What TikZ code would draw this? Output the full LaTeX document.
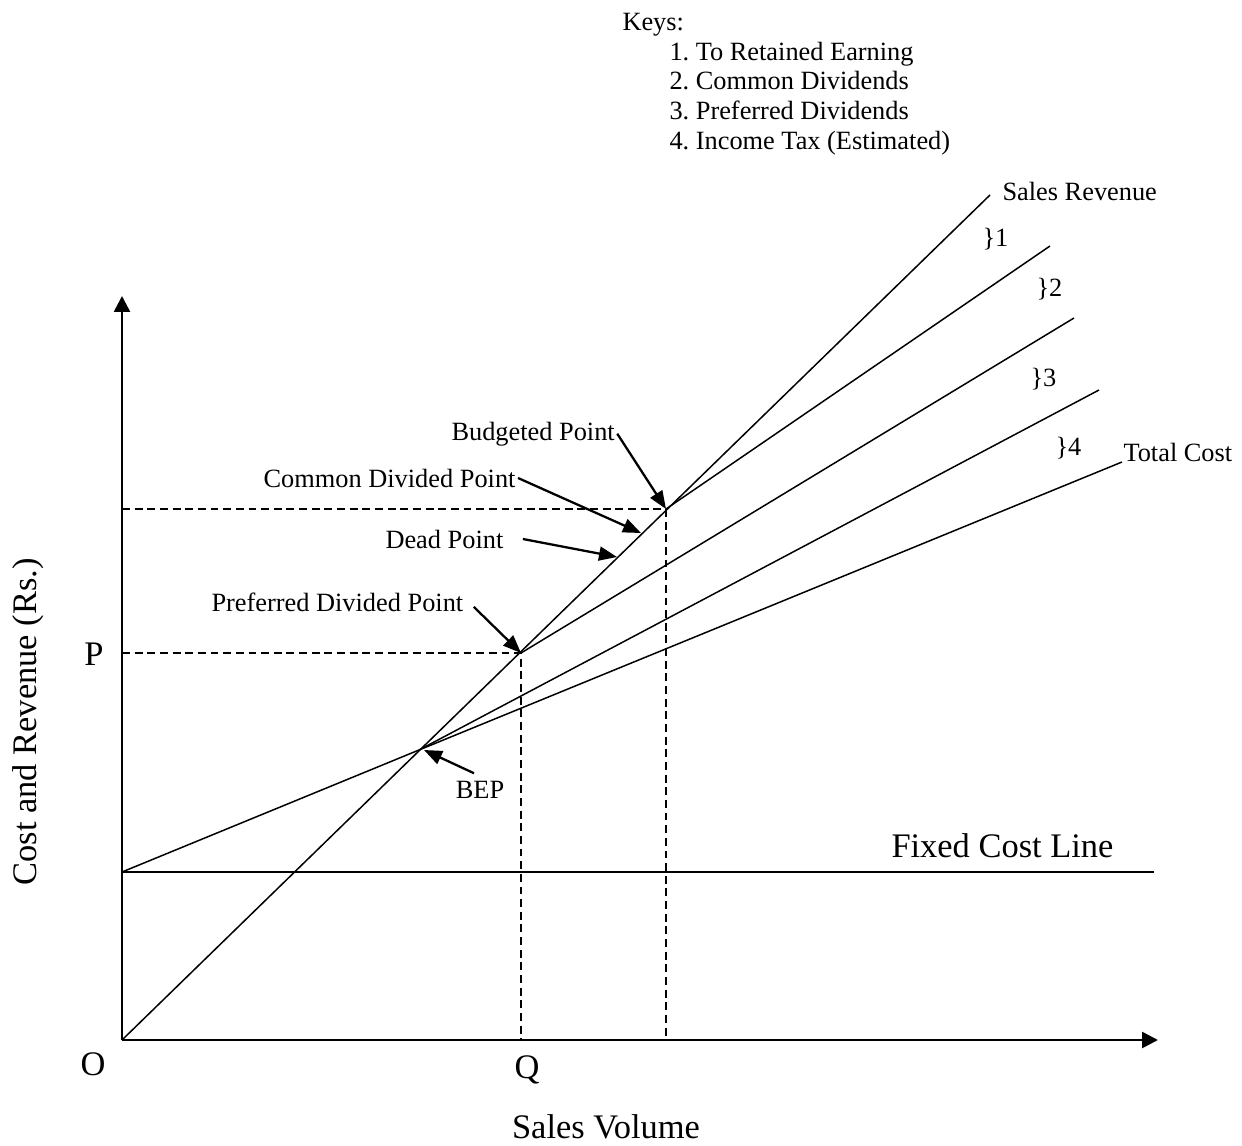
\documentclass[tikz,border=0pt]{standalone}
\usepackage{fontspec}
\setmainfont{Liberation Serif}
\frenchspacing
\usetikzlibrary{arrows.meta, calc}
\tikzset{
  every picture/.style={line width=0.85pt},
  axis/.style={line width=1.5pt, -{Triangle[length=0.32cm, width=0.32cm]}},
  pointer/.style={-{Triangle[length=0.36cm, width=0.28cm]}, line width=1.3pt},
  guide/.style={dash pattern=on 4.5pt off 2.7pt, line width=0.75pt},
  lbl/.style={font=\fontsize{15}{17}\selectfont, inner sep=1pt},
  biglbl/.style={font=\fontsize{19.6}{22}\selectfont, inner sep=1pt},
}

\begin{document}
\begin{tikzpicture}[x=0.02cm, y=-0.02cm]
  \useasboundingbox (0,0) rectangle (1242,1146);
  % points on the chart
  \coordinate (O) at (122,1040);
  \coordinate (F) at (122,872);
  \coordinate (BEP) at (419,750);
  \coordinate (PP) at (521,653);
  \coordinate (BP) at (666,509);
  \coordinate (CDP) at (641,533);
  \coordinate (DP) at (617,557);
  % axes
  \draw[axis] (O) -- (122,296);
  \draw[axis] (O) -- (1158,1040);
  % dashed guides
  \draw[guide] (O |- PP) -- (PP) -- (PP |- O);
  \draw[guide] (O |- BP) -- (BP) -- (BP |- O);
  % lines
  \draw (F) -- (1154,872);
  \draw (F) -- (BEP) -- (1122,462);
  \draw (O) -- (990,195);
  \draw (BEP) -- (1099,390);
  \draw (PP) -- (1074,318);
  \draw (BP) -- (1050,246);
  % keys
  \node[lbl, anchor=base west] (keys) at (620,31) {Keys:};
  \foreach \i/\t in {1/To Retained Earning, 2/Common Dividends, 3/Preferred Dividends, 4/{Income Tax (Estimated)}} {
    \node[lbl, anchor=base west] (key\i) at (667,{31+29.5*\i}) {\i.\ \t};
  }
  % line labels
  \node[lbl, anchor=base west] (sales) at (1000,200) {Sales Revenue};
  \node[lbl, anchor=base west] (b1) at (980,246) {\}1};
  \node[lbl, anchor=base west] (b2) at (1034,296) {\}2};
  \node[lbl, anchor=base west] (b3) at (1028,386) {\}3};
  \node[lbl, anchor=base west] (b4) at (1053,455) {\}4};
  \node[lbl, anchor=base west] (total) at (1121,461) {Total Cost};
  \node[biglbl, anchor=base west] (fixed) at (889,857) {Fixed Cost Line};
  % point labels
  \node[lbl, anchor=base west] (budget) at (449,440) {Budgeted Point};
  \node[lbl, anchor=base east] (common) at (518,487) {Common Divided Point};
  \node[lbl, anchor=base west] (dead) at (383,548) {Dead Point};
  \node[lbl, anchor=base west] (pref) at (209,611) {Preferred Divided Point};
  \node[lbl, anchor=base] (bep) at (480,798) {BEP};
  \draw[pointer] (budget.east) -- (BP);
  \draw[pointer] (common.east) -- (CDP);
  \draw[pointer] ([xshift=0.34cm]dead.east) -- (DP);
  \draw[pointer] ([xshift=0.16cm, yshift=-0.1cm]pref.east) -- (PP);
  \draw[pointer] ([xshift=-0.12cm, yshift=0.1cm]bep.north) -- ([xshift=0.1cm]BEP);
  % axis labels
  \node[biglbl, anchor=base] (p) at (94,665) {P};
  \node[biglbl, anchor=base] (o) at (93,1075) {O};
  \node[biglbl, anchor=base] (q) at (527,1078) {Q};
  \node[biglbl, anchor=base] (xlab) at (606,1138) {Sales Volume};
  \node[biglbl, anchor=base, rotate=90] (ylab) at (36,722) {Cost and Revenue (Rs.)};
\end{tikzpicture}
\end{document}
